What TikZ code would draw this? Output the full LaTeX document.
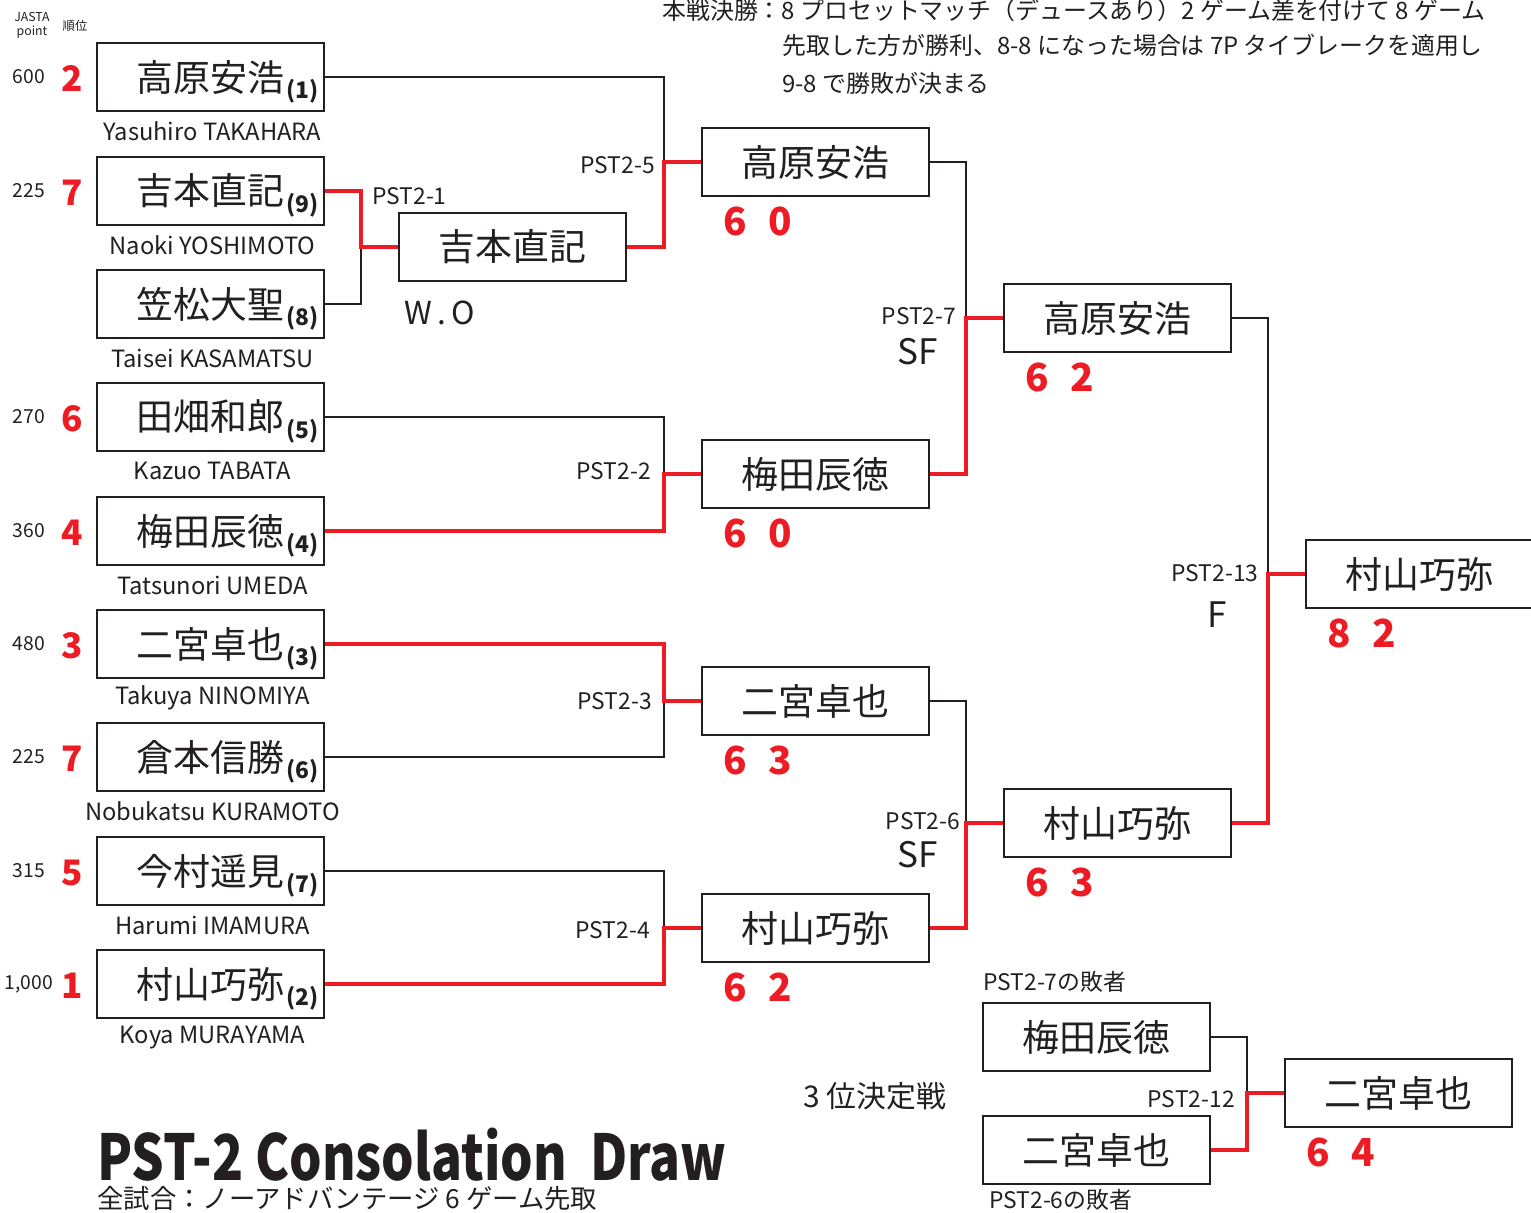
\documentclass[tikz,border=0pt]{standalone}
\usepackage{fontspec}
\setmainfont{Noto Sans CJK JP}
\newfontfamily\titlefont{Noto Sans CJK JP}[FakeStretch=0.81]
\usetikzlibrary{calc}
\definecolor{ink}{HTML}{231F20}
\definecolor{win}{HTML}{ED1C24}
\begin{document}
\begin{tikzpicture}[x=0.02cm,y=-0.02cm,every node/.style={text=ink,inner sep=0pt},
    player/.style={draw=ink,line width=1.5pt,minimum width=4.54cm,minimum height=1.36cm,font=\fontsize{21}{21}\selectfont},
    seed/.style={font=\bfseries\fontsize{13}{13}\selectfont},
    roman/.style={font=\fontsize{13.5}{13.5}\selectfont},
    pts/.style={font=\fontsize{11}{11}\selectfont},
    rank/.style={text=win,font=\bfseries\fontsize{20}{20}\selectfont},
    score/.style={text=win,font=\bfseries\fontsize{22}{22}\selectfont},
    match/.style={font=\fontsize{13}{13}\selectfont},
    round/.style={font=\fontsize{20}{20}\selectfont},
    note/.style={font=\fontsize{13.6}{13.6}\selectfont},
    lose/.style={draw=ink,line width=1.1pt},
    won/.style={draw=win,line width=2.8pt}]
  \useasboundingbox (0,0) rectangle (1531,1213);
  \node[font=\fontsize{7}{8}\selectfont,align=center] (hpt) at (32,25) {JASTA\\point};
  \node[font=\fontsize{7}{8}\selectfont] (hrk) at (75,26) {順位};
  \foreach \i/\yy/\jp/\sd/\en/\pt/\rk in {1/77/高原安浩/1/Yasuhiro TAKAHARA/600/2,
      2/191/吉本直記/9/Naoki YOSHIMOTO/225/7,
      3/304/笠松大聖/8/Taisei KASAMATSU/{}/{},
      4/417/田畑和郎/5/Kazuo TABATA/270/6,
      5/531/梅田辰徳/4/Tatsunori UMEDA/360/4,
      6/644/二宮卓也/3/Takuya NINOMIYA/480/3,
      7/757/倉本信勝/6/Nobukatsu KURAMOTO/225/7,
      8/871/今村遥見/7/Harumi IMAMURA/315/5,
      9/984/村山巧弥/2/Koya MURAYAMA/{1,000}/1} {
    \node[player] (p\i) at (210.5,\yy) {\jp\hspace{30pt}};
    \node[seed] (s\i) at ($(p\i.east)+(-23,14)$) {(\sd)};
    \node[roman] (e\i) at ($(p\i)+(2,54)$) {\en};
    \node[pts] (n\i) at (29,\yy) {\pt};
    \node[rank] (k\i) at (72,\yy+2) {\rk};
  }
  \node[player] (a1) at (512.5,247) {吉本直記};
  \node[player] (r2a) at (815.5,162) {高原安浩};
  \node[player] (r2b) at (815.5,474) {梅田辰徳};
  \node[player] (r2c) at (815.5,701) {二宮卓也};
  \node[player] (r2d) at (815.5,928) {村山巧弥};
  \node[player] (r3a) at (1117.5,318) {高原安浩};
  \node[player] (r3b) at (1117.5,823) {村山巧弥};
  \node[player] (fin) at (1419.5,574) {村山巧弥};
  \node[player] (t1) at (1096.5,1037) {梅田辰徳};
  \node[player] (t2) at (1096.5,1150) {二宮卓也};
  \node[player] (t3) at (1398.5,1093) {二宮卓也};
  \coordinate (m1) at (361,247);
  \coordinate (m5) at (664,162);
  \coordinate (m2) at (664,474);
  \coordinate (m3) at (664,701);
  \coordinate (m4) at (664,928);
  \coordinate (m7) at (966,318);
  \coordinate (m6) at (966,823);
  \coordinate (m13) at (1268,574);
  \coordinate (m12) at (1247,1093);
  \draw[lose] (p3.east) -| (m1);
  \draw[lose] (p1.east) -| (m5);
  \draw[lose] (p4.east) -| (m2);
  \draw[lose] (p7.east) -| (m3);
  \draw[lose] (p8.east) -| (m4);
  \draw[lose] (r2a.east) -| (m7);
  \draw[lose] (r2c.east) -| (m6);
  \draw[lose] (r3a.east) -| (m13);
  \draw[lose] (t1.east) -| (m12);
  \draw[won] (p2.east) -| (m1) -- (a1.west);
  \draw[won] (a1.east) -| (m5) -- (r2a.west);
  \draw[won] (p5.east) -| (m2) -- (r2b.west);
  \draw[won] (p6.east) -| (m3) -- (r2c.west);
  \draw[won] (p9.east) -| (m4) -- (r2d.west);
  \draw[won] (r2b.east) -| (m7) -- (r3a.west);
  \draw[won] (r2d.east) -| (m6) -- (r3b.west);
  \draw[won] (r3b.east) -| (m13) -- (fin.west);
  \draw[won] (t2.east) -| (m12) -- (t3.west);
  \foreach \b/\s/\t in {r2a/6/0,r2b/6/0,r2c/6/3,r2d/6/2,r3a/6/2,r3b/6/3,fin/8/2,t3/6/4} {
    \node[score] at ($(\b.south west)+(35,24)$) {\s};
    \node[score] at ($(\b.south west)+(80,24)$) {\t};
  }
  \node[match,anchor=west] (l1) at (372,196) {PST2-1};
  \node[font=\fontsize{18}{18}\selectfont] (wo) at (440,313) {W\,.\,O};
  \node[match,anchor=east] (l5) at (655,165) {PST2-5};
  \node[match,anchor=east] (l2) at (651,471) {PST2-2};
  \node[match,anchor=east] (l3) at (652,701) {PST2-3};
  \node[match,anchor=east] (l4) at (650,930) {PST2-4};
  \node[match] (l7) at (919,316) {PST2-7};
  \node[round] (sf7) at (918,352) {SF};
  \node[match] (l6) at (923,821) {PST2-6};
  \node[round] (sf6) at (918,855) {SF};
  \node[match] (l13) at (1215,573) {PST2-13};
  \node[round] (f13) at (1217,615) {F};
  \node[match,anchor=east] (l12) at (1235,1099) {PST2-12};
  \node[match,anchor=west] (lose7) at (983,982) {PST2-7の敗者};
  \node[match,anchor=west] (lose6) at (989,1200) {PST2-6の敗者};
  \node[font=\fontsize{17}{17}\selectfont] (third) at (875,1096) {3 位決定戦};
  \node[note,anchor=west] (rule1) at (662,10) {本戦決勝：8 プロセットマッチ（デュースあり）2 ゲーム差を付けて 8 ゲーム};
  \node[note,anchor=west] (rule2) at (782,45) {先取した方が勝利、8-8 になった場合は 7P タイブレークを適用し};
  \node[note,anchor=west] (rule3) at (782,83) {9-8 で勝敗が決まる};
  \node[anchor=base west,font=\titlefont\bfseries\fontsize{36}{36}\selectfont] (title) at (97,1180) {PST-2 Consolation\ \ Draw};
  \node[anchor=west,font=\fontsize{15}{15}\selectfont] (sub) at (97,1199) {全試合：ノーアドバンテージ 6 ゲーム先取};
\end{tikzpicture}
\end{document}
